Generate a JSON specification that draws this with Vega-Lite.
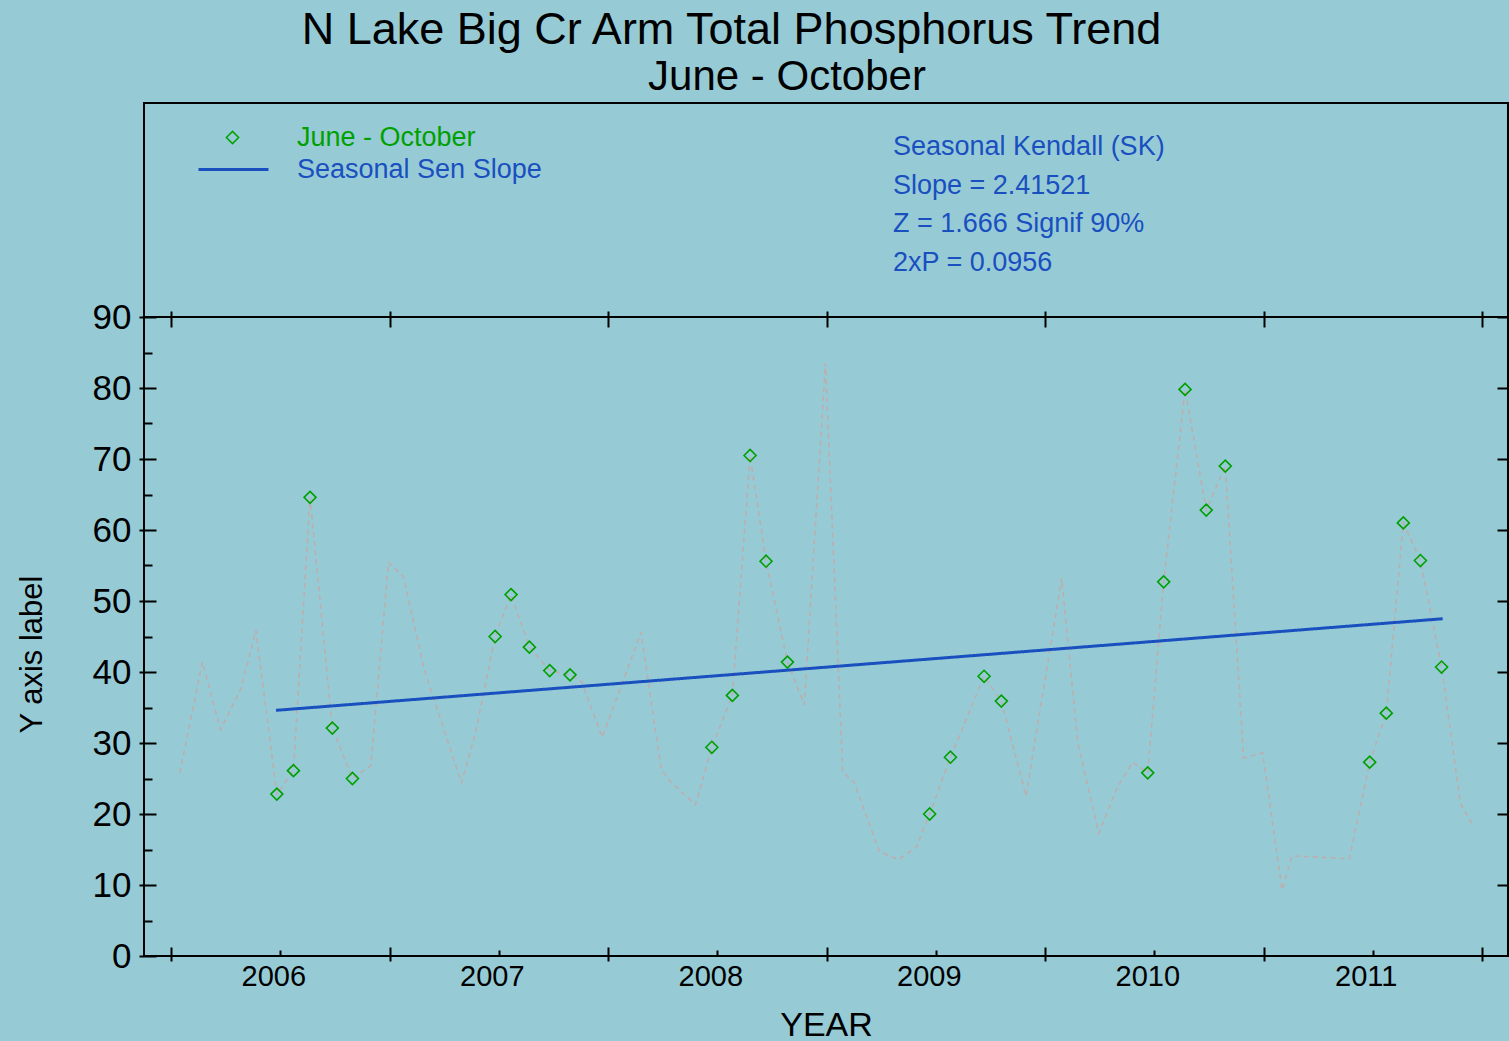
{
  "$schema": "https://vega.github.io/schema/vega-lite/v6.json",
  "autosize": {"type": "pad"},
  "padding": {"left": 15, "top": 8, "right": 2, "bottom": 0},
  "background": "#96cbd6",
  "bounds": "flush",
  "title": {
    "text": "N Lake Big Cr Arm Total Phosphorus Trend",
    "font": "Liberation Sans",
    "fontSize": 45,
    "fontWeight": "normal",
    "color": "black",
    "anchor": "middle",
    "dx": -31,
    "offset": 2
  },
  "config": {
    "view": {"stroke": "black", "strokeWidth": 2},
    "font": "Liberation Sans",
    "axis": {
      "grid": false,
      "domain": false,
      "tickColor": "black",
      "tickWidth": 2,
      "labelColor": "black",
      "titleColor": "black",
      "titleFontWeight": "normal"
    }
  },
  "spacing": 0,
  "resolve": {"legend": {"shape": "independent", "strokeDash": "independent"}},
  "vconcat": [
    {
      "width": 1364,
      "height": 214,
      "title": {
        "text": "June - October",
        "font": "Liberation Sans",
        "fontSize": 42,
        "fontWeight": "normal",
        "color": "black",
        "anchor": "middle",
        "dx": -39,
        "offset": 4
      },
      "data": {
        "values": [
          {"line": 1, "text": "Seasonal Kendall (SK)"},
          {"line": 2, "text": "Slope = 2.41521"},
          {"line": 3, "text": "Z = 1.666  Signif 90%"},
          {"line": 4, "text": "2xP = 0.0956"}
        ]
      },
      "mark": {
        "type": "text",
        "align": "left",
        "baseline": "middle",
        "font": "Liberation Sans",
        "fontSize": 27,
        "color": "#1a4fc0"
      },
      "encoding": {
        "x": {
          "datum": 2009.304,
          "type": "quantitative",
          "scale": {"domain": [2005.876, 2012.119], "nice": false, "zero": false},
          "axis": null
        },
        "y": {
          "field": "line",
          "type": "quantitative",
          "axis": null,
          "scale": {"domain": [-0.137, 5.393], "reverse": true, "nice": false, "zero": false}
        },
        "text": {"field": "text"}
      }
    },
    {
      "width": 1364,
      "height": 639,
      "layer": [
        {
          "data": {
            "values": [
              {"t": 2006.04, "v": 25.8}, {"t": 2006.143, "v": 41.4}, {"t": 2006.226, "v": 31.9},
              {"t": 2006.319, "v": 37.6}, {"t": 2006.388, "v": 45.9}, {"t": 2006.484, "v": 22.8},
              {"t": 2006.56, "v": 26.1}, {"t": 2006.636, "v": 64.6}, {"t": 2006.738, "v": 32.1},
              {"t": 2006.83, "v": 25.0}, {"t": 2006.914, "v": 26.8}, {"t": 2006.995, "v": 55.4},
              {"t": 2007.063, "v": 53.5}, {"t": 2007.158, "v": 40.4}, {"t": 2007.329, "v": 24.4},
              {"t": 2007.394, "v": 31.5}, {"t": 2007.483, "v": 45.0}, {"t": 2007.556, "v": 50.9},
              {"t": 2007.64, "v": 43.5}, {"t": 2007.733, "v": 40.2}, {"t": 2007.826, "v": 39.6},
              {"t": 2007.88, "v": 38.6}, {"t": 2007.973, "v": 30.8}, {"t": 2008.151, "v": 45.6},
              {"t": 2008.243, "v": 26.3}, {"t": 2008.288, "v": 24.5}, {"t": 2008.4, "v": 21.3},
              {"t": 2008.475, "v": 29.4}, {"t": 2008.569, "v": 36.7}, {"t": 2008.65, "v": 70.5},
              {"t": 2008.723, "v": 55.6}, {"t": 2008.821, "v": 41.4}, {"t": 2008.898, "v": 35.4},
              {"t": 2008.995, "v": 83.5}, {"t": 2009.074, "v": 26.0}, {"t": 2009.127, "v": 24.4},
              {"t": 2009.242, "v": 14.7}, {"t": 2009.329, "v": 13.6}, {"t": 2009.41, "v": 15.3},
              {"t": 2009.472, "v": 20.0}, {"t": 2009.567, "v": 28.0}, {"t": 2009.721, "v": 39.4},
              {"t": 2009.8, "v": 35.9}, {"t": 2009.913, "v": 22.5}, {"t": 2010.076, "v": 53.2},
              {"t": 2010.15, "v": 30.0}, {"t": 2010.246, "v": 17.3}, {"t": 2010.33, "v": 23.7},
              {"t": 2010.401, "v": 27.3}, {"t": 2010.47, "v": 25.8}, {"t": 2010.543, "v": 52.7},
              {"t": 2010.641, "v": 79.8}, {"t": 2010.738, "v": 62.8}, {"t": 2010.825, "v": 69.0},
              {"t": 2010.909, "v": 27.9}, {"t": 2010.996, "v": 28.6}, {"t": 2011.085, "v": 9.3},
              {"t": 2011.13, "v": 14.1}, {"t": 2011.393, "v": 13.7}, {"t": 2011.486, "v": 27.3},
              {"t": 2011.562, "v": 34.2}, {"t": 2011.64, "v": 61.0}, {"t": 2011.718, "v": 55.7},
              {"t": 2011.815, "v": 40.7}, {"t": 2011.901, "v": 21.5}, {"t": 2011.953, "v": 18.7}
            ]
          },
          "mark": {"type": "line", "color": "#bcaeae", "strokeWidth": 1.6, "strokeDash": [5, 4]},
          "encoding": {
            "x": {
              "field": "t",
              "type": "quantitative",
              "scale": {"domain": [2005.876, 2012.119], "nice": false, "zero": false},
              "axis": {
                "orient": "bottom",
                "values": [2006.5, 2007.5, 2008.5, 2009.5, 2010.5, 2011.5],
                "labelExpr": "format(floor(datum.value), 'd')",
                "tickSize": -6,
                "labelFontSize": 29,
                "labelPadding": 12,
                "labelOffset": -7,
                "title": "YEAR",
                "titleFontSize": 34,
                "titlePadding": 17
              }
            },
            "y": {
              "field": "v",
              "type": "quantitative",
              "scale": {"domain": [0, 90], "nice": false},
              "axis": {
                "orient": "left",
                "values": [0, 10, 20, 30, 40, 50, 60, 70, 80, 90],
                "offset": -12,
                "tickSize": 17,
                "labelFontSize": 35,
                "labelPadding": 8,
                "title": "Y axis label",
                "titleFont": "Liberation Sans",
                "titleFontSize": 31,
                "titlePadding": 44,
                "titleY": 337
              }
            }
          }
        },
        {
          "data": {
            "values": [
              {"t": 2006.484, "v": 22.8, "series": "June - October"},
              {"t": 2006.56, "v": 26.1, "series": "June - October"},
              {"t": 2006.636, "v": 64.6, "series": "June - October"},
              {"t": 2006.738, "v": 32.1, "series": "June - October"},
              {"t": 2006.83, "v": 25.0, "series": "June - October"},
              {"t": 2007.483, "v": 45.0, "series": "June - October"},
              {"t": 2007.556, "v": 50.9, "series": "June - October"},
              {"t": 2007.64, "v": 43.5, "series": "June - October"},
              {"t": 2007.733, "v": 40.2, "series": "June - October"},
              {"t": 2007.826, "v": 39.6, "series": "June - October"},
              {"t": 2008.475, "v": 29.4, "series": "June - October"},
              {"t": 2008.569, "v": 36.7, "series": "June - October"},
              {"t": 2008.65, "v": 70.5, "series": "June - October"},
              {"t": 2008.723, "v": 55.6, "series": "June - October"},
              {"t": 2008.821, "v": 41.4, "series": "June - October"},
              {"t": 2009.472, "v": 20.0, "series": "June - October"},
              {"t": 2009.567, "v": 28.0, "series": "June - October"},
              {"t": 2009.721, "v": 39.4, "series": "June - October"},
              {"t": 2009.8, "v": 35.9, "series": "June - October"},
              {"t": 2010.47, "v": 25.8, "series": "June - October"},
              {"t": 2010.543, "v": 52.7, "series": "June - October"},
              {"t": 2010.641, "v": 79.8, "series": "June - October"},
              {"t": 2010.738, "v": 62.8, "series": "June - October"},
              {"t": 2010.825, "v": 69.0, "series": "June - October"},
              {"t": 2011.486, "v": 27.3, "series": "June - October"},
              {"t": 2011.562, "v": 34.2, "series": "June - October"},
              {"t": 2011.64, "v": 61.0, "series": "June - October"},
              {"t": 2011.718, "v": 55.7, "series": "June - October"},
              {"t": 2011.815, "v": 40.7, "series": "June - October"}
            ]
          },
          "mark": {"type": "point", "filled": false, "size": 144, "strokeWidth": 1.6, "opacity": 1, "color": "#00a000"},
          "encoding": {
            "x": {
              "field": "t",
              "type": "quantitative",
              "axis": {
                "orient": "bottom",
                "values": [2006, 2007, 2008, 2009, 2010, 2011, 2012],
                "offset": -9,
                "tickSize": 14,
                "labels": false,
                "title": null
              }
            },
            "y": {
              "field": "v",
              "type": "quantitative",
              "axis": {
                "orient": "left",
                "values": [5, 15, 25, 35, 45, 55, 65, 75, 85],
                "tickSize": -8,
                "labels": false,
                "title": null
              }
            },
            "shape": {
              "field": "series",
              "type": "nominal",
              "scale": {"domain": ["June - October"], "range": ["diamond"]},
              "legend": {
                "orient": "none",
                "legendX": 75,
                "legendY": -193,
                "title": null,
                "padding": 0,
                "labelFont": "Liberation Sans",
                "labelFontSize": 27,
                "labelColor": "#00a000",
                "labelOffset": 51,
                "labelLimit": 0,
                "symbolSize": 150,
                "symbolStrokeWidth": 1.5,
                "symbolStrokeColor": "#00a000",
                "symbolFillColor": "transparent"
              }
            }
          }
        },
        {
          "data": {
            "values": [
              {"t": 2006.48, "v": 34.6, "series": "Seasonal Sen Slope"},
              {"t": 2011.82, "v": 47.5, "series": "Seasonal Sen Slope"}
            ]
          },
          "mark": {"type": "line", "strokeWidth": 3, "color": "#1a4fc0"},
          "encoding": {
            "x": {
              "field": "t",
              "type": "quantitative",
              "axis": {
                "orient": "top",
                "values": [2006, 2007, 2008, 2009, 2010, 2011, 2012],
                "offset": -10,
                "tickSize": 16,
                "labels": false,
                "title": null
              }
            },
            "y": {
              "field": "v",
              "type": "quantitative",
              "axis": {
                "orient": "right",
                "values": [10, 20, 30, 40, 50, 60, 70, 80, 90],
                "tickSize": -11,
                "labels": false,
                "title": null
              }
            },
            "strokeDash": {
              "field": "series",
              "type": "nominal",
              "scale": {"domain": ["Seasonal Sen Slope"], "range": [[1, 0]]},
              "legend": {
                "orient": "none",
                "legendX": 53,
                "legendY": -184,
                "title": null,
                "padding": 0,
                "labelFont": "Liberation Sans",
                "labelFontSize": 27,
                "labelColor": "#1a4fc0",
                "labelOffset": 27,
                "labelLimit": 0,
                "symbolType": "stroke",
                "symbolSize": 4900,
                "symbolStrokeWidth": 3,
                "symbolStrokeColor": "#1a4fc0"
              }
            }
          }
        }
      ],
      "resolve": {
        "scale": {"x": "shared", "y": "shared"},
        "axis": {"x": "independent", "y": "independent"}
      }
    }
  ]
}
